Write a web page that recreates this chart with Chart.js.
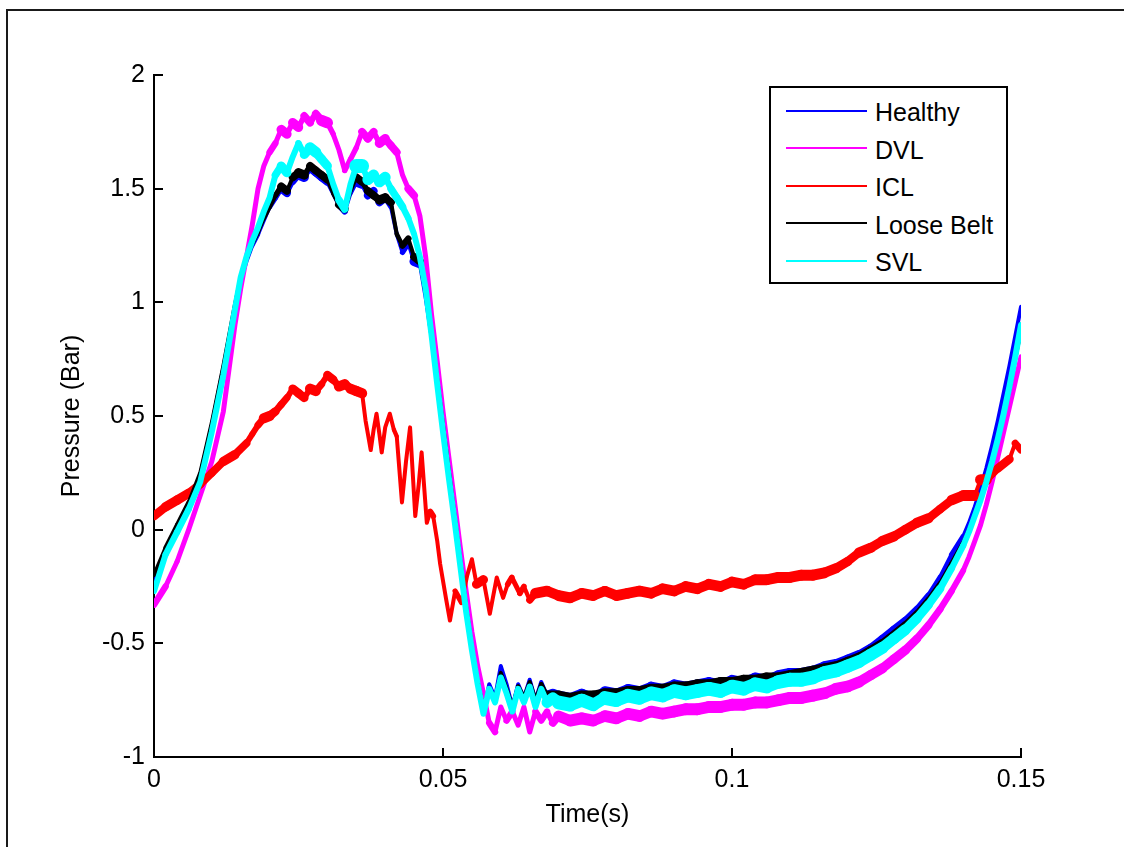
<!DOCTYPE html>
<html>
<head>
<meta charset="utf-8">
<script src="https://cdn.jsdelivr.net/npm/chart.js@4.4.1/dist/chart.umd.min.js"></script>
<style>
html,body{margin:0;padding:0;background:#fff;}
#wrap{position:relative;width:1124px;height:847px;overflow:hidden;background:#fff;}
canvas{position:absolute;left:0;top:0;}
#frame{position:absolute;left:6px;top:9px;width:1300px;height:1000px;border-left:2px solid #1a1a1a;border-top:2px solid #1a1a1a;pointer-events:none;}
#legend{position:absolute;left:769px;top:86px;width:239px;height:198px;box-sizing:border-box;border:2px solid #000;background:#fff;padding:4px 0 0 15px;font-family:"Liberation Sans",Arial,sans-serif;font-size:25px;color:#000;}
.row{height:37.5px;display:flex;align-items:center;}
.sw{width:81px;height:2px;margin-right:8px;flex:none;}
.lbl{position:relative;top:2px;white-space:nowrap;}
</style>
</head>
<body>
<div id="wrap">
  <canvas id="c" width="1124" height="847"></canvas>
  <div id="frame"></div>
  <div id="legend"></div>
</div>
<script>
// ---------------- data ----------------
const seriesNames = ['Healthy', 'DVL', 'ICL', 'Loose Belt', 'SVL'];

const time = [
  0,0.002,0.004,0.006,0.008,0.010,0.012,0.014,
  0.015,0.016,0.017,0.018,0.019,0.020,0.021,0.022,0.023,0.024,
  0.025,0.026,0.027,0.028,0.029,0.030,0.031,0.032,0.033,0.034,
  0.035,0.036,0.037,0.038,0.039,0.040,0.041,0.042,0.043,0.044,
  0.045,0.046,0.047,0.048,0.049,0.050,0.051,0.052,0.053,0.054,
  0.055,0.056,0.057,0.058,0.059,0.060,0.061,0.062,0.063,0.064,
  0.065,0.066,0.067,0.068,0.069,0.070,
  0.072,0.074,0.076,0.078,0.080,0.082,0.084,0.086,0.088,0.090,
  0.092,0.094,0.096,0.098,0.100,0.102,0.104,0.106,0.108,0.110,
  0.112,0.114,0.116,0.118,0.120,0.122,0.124,0.126,0.128,0.130,
  0.132,0.134,0.136,0.138,0.140,
  0.141,0.142,0.143,0.144,0.145,0.146,0.147,0.148,0.149,0.150
];

const healthy = [
  -0.22,-0.09,0.01,0.11,0.24,0.46,0.71,0.98,
  1.10,1.18,1.25,1.30,1.36,1.42,1.46,1.50,1.48,1.53,
  1.56,1.55,1.59,1.57,1.55,1.53,1.48,1.43,1.40,1.48,
  1.53,1.52,1.47,1.49,1.44,1.46,1.42,1.30,1.22,1.26,
  1.18,1.17,1.02,0.85,0.66,0.46,0.26,0.06,-0.14,-0.34,
  -0.52,-0.67,-0.80,-0.68,-0.74,-0.60,-0.68,-0.78,-0.68,-0.74,
  -0.66,-0.75,-0.67,-0.73,-0.72,-0.73,
  -0.74,-0.72,-0.74,-0.71,-0.72,-0.70,-0.71,-0.69,-0.70,-0.68,
  -0.69,-0.68,-0.67,-0.68,-0.66,-0.67,-0.65,-0.66,-0.64,-0.63,
  -0.63,-0.62,-0.60,-0.59,-0.57,-0.55,-0.52,-0.48,-0.44,-0.40,
  -0.35,-0.29,-0.21,-0.11,-0.03,
  0.03,0.10,0.18,0.27,0.37,0.48,0.60,0.72,0.85,0.98
];

const dvl = [
  -0.33,-0.25,-0.14,0.00,0.15,0.30,0.52,0.90,
  1.06,1.20,1.34,1.50,1.60,1.66,1.70,1.76,1.74,1.79,
  1.77,1.82,1.79,1.83,1.80,1.79,1.74,1.67,1.58,1.63,
  1.68,1.75,1.72,1.75,1.70,1.72,1.69,1.66,1.56,1.50,
  1.47,1.38,1.20,0.95,0.74,0.52,0.32,0.12,-0.08,-0.27,
  -0.45,-0.60,-0.72,-0.85,-0.89,-0.78,-0.84,-0.80,-0.86,-0.78,
  -0.89,-0.80,-0.84,-0.80,-0.85,-0.82,
  -0.84,-0.83,-0.84,-0.82,-0.83,-0.81,-0.82,-0.80,-0.81,-0.80,
  -0.79,-0.79,-0.78,-0.78,-0.77,-0.77,-0.76,-0.76,-0.75,-0.74,
  -0.74,-0.73,-0.72,-0.70,-0.69,-0.67,-0.64,-0.61,-0.57,-0.53,
  -0.48,-0.42,-0.35,-0.27,-0.18,
  -0.12,-0.05,0.02,0.11,0.21,0.32,0.43,0.54,0.65,0.76
];

const looseBelt = [
  -0.20,-0.08,0.02,0.12,0.25,0.47,0.72,0.99,
  1.11,1.19,1.26,1.31,1.37,1.42,1.47,1.51,1.49,1.55,
  1.57,1.56,1.60,1.58,1.56,1.54,1.48,1.43,1.41,1.49,
  1.55,1.53,1.49,1.47,1.45,1.46,1.44,1.30,1.25,1.28,
  1.20,1.18,1.04,0.86,0.66,0.46,0.26,0.06,-0.14,-0.34,
  -0.52,-0.67,-0.79,-0.70,-0.75,-0.63,-0.70,-0.78,-0.69,-0.74,
  -0.67,-0.75,-0.68,-0.73,-0.73,-0.73,
  -0.74,-0.73,-0.73,-0.72,-0.72,-0.71,-0.71,-0.70,-0.70,-0.69,
  -0.69,-0.68,-0.68,-0.67,-0.67,-0.66,-0.66,-0.65,-0.65,-0.64,
  -0.63,-0.62,-0.61,-0.60,-0.58,-0.56,-0.53,-0.50,-0.46,-0.42,
  -0.37,-0.31,-0.24,-0.15,-0.06,
  0.00,0.06,0.13,0.21,0.30,0.40,0.51,0.62,0.75,0.88
];

const svl = [
  -0.27,-0.11,-0.01,0.09,0.21,0.43,0.68,0.97,
  1.11,1.20,1.27,1.33,1.40,1.46,1.56,1.60,1.57,1.64,
  1.70,1.65,1.68,1.66,1.63,1.60,1.52,1.45,1.41,1.52,
  1.60,1.60,1.54,1.56,1.53,1.55,1.50,1.46,1.42,1.37,
  1.30,1.20,1.06,0.86,0.64,0.43,0.23,0.04,-0.16,-0.36,
  -0.53,-0.68,-0.81,-0.70,-0.76,-0.65,-0.72,-0.80,-0.70,-0.76,
  -0.69,-0.78,-0.70,-0.76,-0.74,-0.76,
  -0.77,-0.75,-0.77,-0.74,-0.75,-0.73,-0.74,-0.72,-0.73,-0.71,
  -0.72,-0.71,-0.70,-0.71,-0.69,-0.70,-0.68,-0.69,-0.67,-0.66,
  -0.66,-0.65,-0.63,-0.62,-0.60,-0.58,-0.55,-0.52,-0.48,-0.44,
  -0.39,-0.33,-0.26,-0.17,-0.07,
  -0.01,0.06,0.13,0.21,0.30,0.40,0.51,0.63,0.76,0.90
];

const iclTime = [
  0,0.002,0.004,0.006,0.008,0.010,0.012,0.014,0.016,0.017,
  0.018,0.019,0.020,0.021,0.022,0.023,0.024,0.025,0.026,0.027,
  0.028,0.029,0.030,0.031,0.032,0.033,0.034,0.035,0.036,0.0366,
  0.0375,0.038,0.0385,0.039,0.0394,0.040,0.0408,0.0415,0.042,0.0429,
  0.0436,0.0443,0.0452,0.0458,0.0463,0.0472,0.0478,0.0483,0.049,0.0495,
  0.0505,0.0512,0.0521,0.0532,0.0542,0.055,0.0558,0.057,0.0581,0.0593,
  0.0604,0.0612,0.0619,0.0633,0.064,0.065,0.066,0.068,0.070,0.072,
  0.074,0.076,0.078,0.080,0.082,0.084,0.086,0.088,0.090,0.092,
  0.094,0.096,0.098,0.100,0.102,0.104,0.106,0.108,0.110,0.112,
  0.114,0.116,0.118,0.120,0.122,0.124,0.126,0.128,0.130,0.132,
  0.134,0.136,0.138,0.140,0.142,0.143,0.144,0.146,0.148,0.149,0.150
];

const icl = [
  0.06,0.10,0.13,0.16,0.20,0.25,0.30,0.33,0.38,0.42,
  0.46,0.49,0.50,0.52,0.55,0.58,0.62,0.60,0.58,0.62,
  0.61,0.64,0.68,0.66,0.63,0.64,0.62,0.61,0.60,0.48,
  0.35,0.44,0.51,0.42,0.34,0.45,0.51,0.44,0.41,0.12,
  0.30,0.45,0.06,0.20,0.34,0.03,0.08,0.06,-0.05,-0.15,
  -0.30,-0.40,-0.27,-0.32,-0.20,-0.13,-0.24,-0.22,-0.37,-0.21,
  -0.30,-0.24,-0.21,-0.28,-0.25,-0.31,-0.28,-0.27,-0.29,-0.30,
  -0.28,-0.29,-0.27,-0.29,-0.28,-0.27,-0.28,-0.26,-0.27,-0.25,
  -0.26,-0.24,-0.25,-0.23,-0.24,-0.22,-0.22,-0.21,-0.21,-0.20,
  -0.20,-0.19,-0.17,-0.14,-0.10,-0.08,-0.05,-0.03,0.00,0.03,
  0.05,0.09,0.13,0.15,0.15,0.22,0.22,0.27,0.31,0.38,0.35
];

const xTicks = [0, 0.05, 0.1, 0.15];
const xTickLabels = ['0', '0.05', '0.1', '0.15'];
const yTicks = [-1, -0.5, 0, 0.5, 1, 1.5, 2];
const yTickLabels = ['-1', '-0.5', '0', '0.5', '1', '1.5', '2'];

// ---------------- styles ----------------
const FONT = '"Liberation Sans", Arial, Helvetica, sans-serif';
const seriesColors = ['#0000ff', '#ff00ff', '#ff0000', '#000000', '#00ffff'];
const bandHeights = [10, 12, 11, 10, 14];   // vertical thickness of the noisy trace (px)
const minWidths = [4, 5, 4, 4, 6];
const drawOrder = [5, 4, 3, 2, 1];            // later MATLAB series on top

function pairs(xs, ys) { return xs.map((x, i) => ({ x: x, y: ys[i] })); }
function bandWidth(h, minW) {
  return (c) => {
    const dx = c.p1.x - c.p0.x, dy = c.p1.y - c.p0.y;
    const len = Math.hypot(dx, dy) || 1;
    return Math.max(minW, h * Math.abs(dx) / len);
  };
}

const seriesData = [
  pairs(time, healthy),
  pairs(time, dvl),
  pairs(iclTime, icl),
  pairs(time, looseBelt),
  pairs(time, svl)
];

const datasets = seriesNames.map((name, i) => ({
  label: name,
  data: seriesData[i],
  borderColor: seriesColors[i],
  backgroundColor: seriesColors[i],
  borderWidth: minWidths[i],
  pointRadius: 0,
  tension: 0,
  fill: false,
  order: drawOrder[i],
  clip: 0,
  borderCapStyle: 'round',
  borderJoinStyle: 'round',
  segment: { borderWidth: bandWidth(bandHeights[i], minWidths[i]) }
}));

const innerTicks = {
  id: 'innerTicks',
  afterDraw(chart) {
    const { ctx, chartArea: a, scales: { x, y } } = chart;
    ctx.save();
    ctx.strokeStyle = '#000';
    ctx.lineWidth = 2;
    ctx.beginPath();
    x.ticks.forEach(t => {
      const px = Math.round(x.getPixelForValue(t.value));
      ctx.moveTo(px, a.bottom); ctx.lineTo(px, a.bottom - 9);
    });
    y.ticks.forEach(t => {
      const py = Math.round(y.getPixelForValue(t.value));
      ctx.moveTo(a.left, py); ctx.lineTo(a.left + 9, py);
    });
    ctx.stroke();
    ctx.restore();
  }
};

new Chart(document.getElementById('c'), {
  type: 'line',
  data: { datasets: datasets },
  plugins: [innerTicks],
  options: {
    responsive: false,
    animation: false,
    devicePixelRatio: 1,
    layout: { padding: { left: 0, top: 75, right: 103, bottom: 0 } },
    plugins: { legend: { display: false }, tooltip: { enabled: false } },
    scales: {
      x: {
        type: 'linear', min: 0, max: 0.15,
        afterBuildTicks: s => { s.ticks = xTicks.map(v => ({ value: v })); },
        afterFit: s => { s.height = 90; },
        grid: { display: false, drawTicks: false },
        border: { display: true, color: '#000', width: 2 },
        ticks: { autoSkip: false, maxRotation: 0, padding: 8, color: '#000',
                 font: { family: FONT, size: 25 },
                 callback: (v, i) => xTickLabels[i] },
        title: { display: true, text: 'Time(s)', color: '#000',
                 font: { family: FONT, size: 25 }, padding: { top: 0, bottom: 17 } }
      },
      y: {
        type: 'linear', min: -1, max: 2,
        afterBuildTicks: s => { s.ticks = yTicks.map(v => ({ value: v })); },
        afterFit: s => { s.width = 154; },
        grid: { display: false, drawTicks: false },
        border: { display: true, color: '#000', width: 2 },
        ticks: { autoSkip: false, padding: 9, color: '#000',
                 font: { family: FONT, size: 25 },
                 callback: (v, i) => yTickLabels[i] },
        title: { display: true, text: 'Pressure (Bar)', color: '#000',
                 font: { family: FONT, size: 25 }, padding: { top: 57, bottom: 0 } }
      }
    }
  }
});

// HTML legend built from the same series
const legend = document.getElementById('legend');
seriesNames.forEach((name, i) => {
  const row = document.createElement('div');
  row.className = 'row';
  const sw = document.createElement('span');
  sw.className = 'sw';
  sw.style.background = seriesColors[i];
  const lb = document.createElement('span');
  lb.className = 'lbl';
  lb.textContent = name;
  row.appendChild(sw); row.appendChild(lb);
  legend.appendChild(row);
});
</script>
</body>
</html>
